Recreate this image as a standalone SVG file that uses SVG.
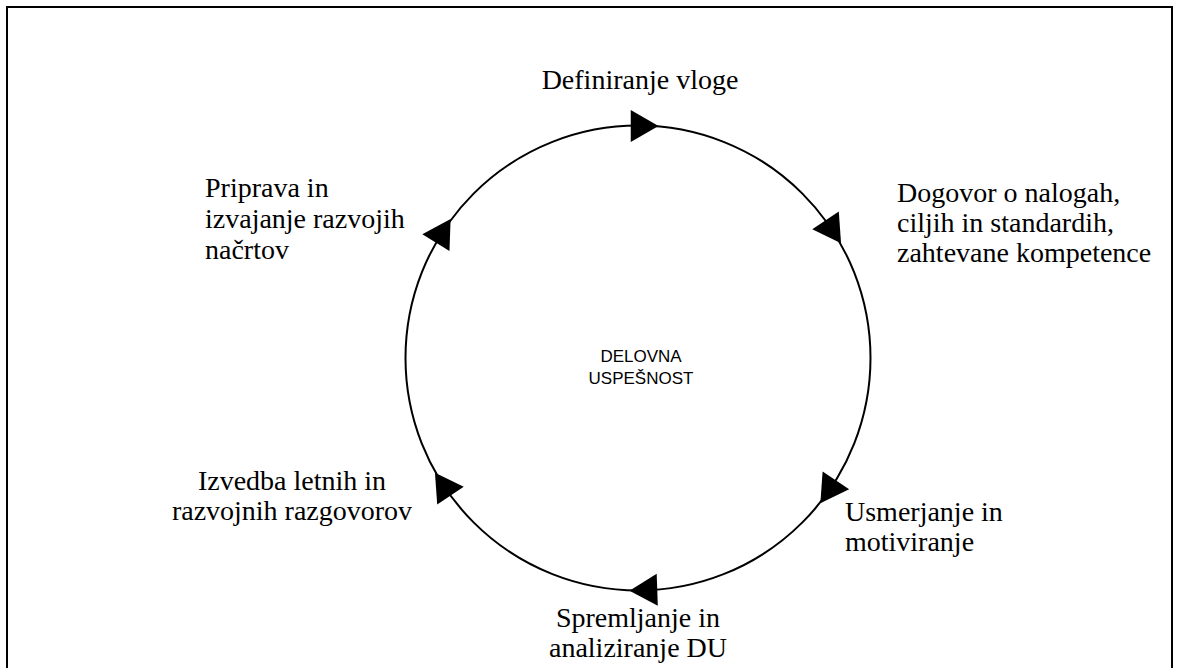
<svg xmlns="http://www.w3.org/2000/svg" width="1177" height="668" viewBox="0 0 1177 668">
<style>
.lbl{font-family:"Liberation Serif","Times New Roman",serif;font-size:28px;fill:#000}
.mid{font-family:"Liberation Sans",Arial,sans-serif;font-size:17px;fill:#000}
.c{text-anchor:middle}
</style>
<defs>
<path id="ah" d="M18.5,0 L-9.25,-16 L-9.25,16 Z" fill="#000"/>
</defs>
<rect width="1177" height="668" fill="#fff"/>
<path d="M7,668 V7 H1172 V668" fill="none" stroke="#000" stroke-width="2"/>
<g id="connectors">
<circle cx="638" cy="358" r="232.5" fill="none" stroke="#000" stroke-width="2"/>
<use href="#ah" transform="translate(640,126) rotate(0)"/>
<use href="#ah" transform="translate(830.7,228) rotate(56)"/>
<use href="#ah" transform="translate(830.7,488) rotate(124)"/>
<use href="#ah" transform="translate(648,590) rotate(178)"/>
<use href="#ah" transform="translate(445.3,488) rotate(236)"/>
<use href="#ah" transform="translate(440.8,234.8) rotate(302)"/>
</g>
<g id="center">
<text class="mid c" x="641" y="362">DELOVNA</text>
<text class="mid c" x="641" y="384">USPEŠNOST</text>
</g>
<g id="n1"><text class="lbl c" x="640" y="89">Definiranje vloge</text></g>
<g id="n2">
<text class="lbl" x="897" y="202">Dogovor o nalogah,</text>
<text class="lbl" x="897" y="232">ciljih in standardih,</text>
<text class="lbl" x="897" y="262">zahtevane kompetence</text>
</g>
<g id="n3">
<text class="lbl" x="845" y="521">Usmerjanje in</text>
<text class="lbl" x="845" y="551">motiviranje</text>
</g>
<g id="n4">
<text class="lbl c" x="638" y="627">Spremljanje in</text>
<text class="lbl c" x="638" y="657">analiziranje DU</text>
</g>
<g id="n5">
<text class="lbl c" x="292" y="490">Izvedba letnih in</text>
<text class="lbl c" x="292" y="520">razvojnih razgovorov</text>
</g>
<g id="n6">
<text class="lbl" x="205" y="197">Priprava in</text>
<text class="lbl" x="205" y="228">izvajanje razvojih</text>
<text class="lbl" x="205" y="259">načrtov</text>
</g>
</svg>
